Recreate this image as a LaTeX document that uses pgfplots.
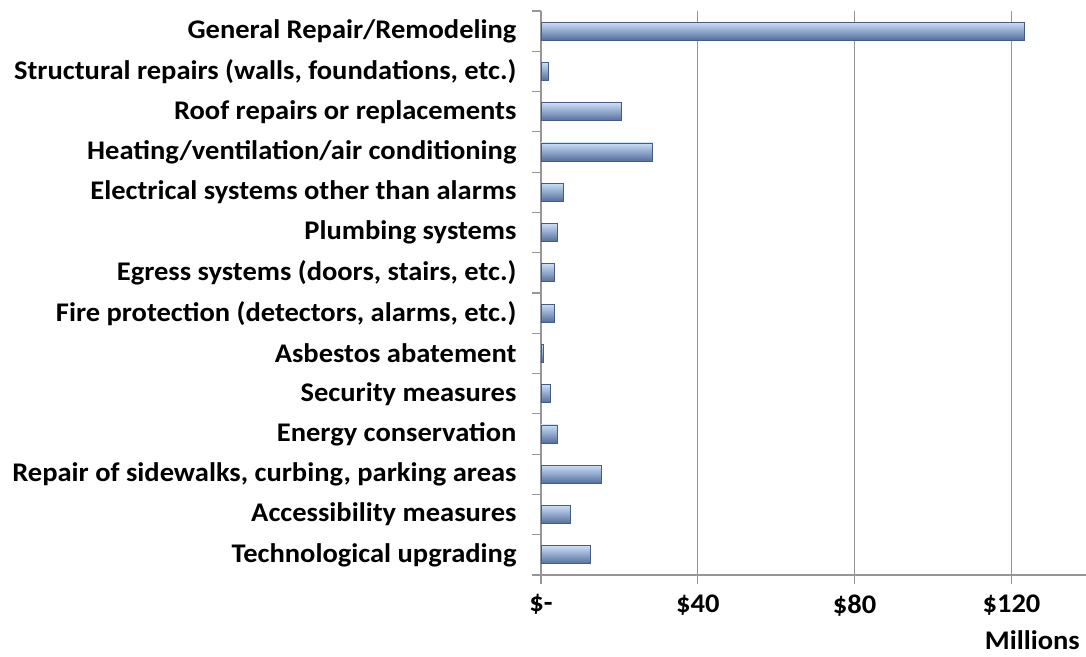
\documentclass[border=0pt]{standalone}
\usepackage{fontspec}
\setmainfont{Carlito}[FakeStretch=1.06]
\usepackage{pgfplots}
\pgfplotsset{compat=1.18}
\definecolor{barlight}{RGB}{202,222,248}
\definecolor{barmid}{RGB}{148,174,217}
\definecolor{bardark}{RGB}{84,110,156}
\definecolor{baredge}{RGB}{70,92,135}
\definecolor{gridgray}{RGB}{150,150,150}
\pgfplotsset{mybar/.style={xbar, bar width=18bp, bar shift=0pt, draw=baredge, line width=0.8bp, top color=barlight, middle color=barmid, bottom color=bardark}}
\begin{document}
\begin{tikzpicture}
\begin{axis}[name=ax, scale only axis, width=545bp, height=564bp,
 xmin=0, xmax=139, ymin=-0.5, ymax=13.5,
 axis x line=bottom, axis y line=left,
 axis line style={draw=gridgray, line width=1.2bp, -},
 xtick={0,40,80,120}, xticklabels={\$-,\$40,\$80,\$120},
 xmajorgrids, grid style={draw=gridgray, line width=1.2bp},
 ytick={-0.5,0.5,...,13.5}, y tick label as interval,
 yticklabels={Technological upgrading, Accessibility measures, {Repair of sidewalks, curbing, parking areas}, Energy conservation, Security measures, Asbestos abatement, {Fire protection (detectors, alarms, etc.)}, {Egress systems (doors, stairs, etc.)}, Plumbing systems, Electrical systems other than alarms, Heating/ventilation/air conditioning, Roof repairs or replacements, {Structural repairs (walls, foundations, etc.)}, General Repair/Remodeling},
 tick align=outside, major tick length=9bp,
 tick style={draw=gridgray, line width=1.2bp},
 tick label style={font=\fontsize{27}{32}\selectfont\bfseries},
 yticklabel style={xshift=-12bp},
 xticklabel style={yshift=-7bp},
 xlabel={Millions},
 xlabel style={font=\fontsize{27}{32}\selectfont\bfseries, at={(rel axis cs:1,0)}, anchor=base east, inner sep=0pt, yshift=-74bp, xshift=-6bp},
]
\addplot[mybar] coordinates {(12.5,0)};
\addplot[mybar] coordinates {(7.6,1)};
\addplot[mybar] coordinates {(15.3,2)};
\addplot[mybar] coordinates {(4.1,3)};
\addplot[mybar] coordinates {(2.5,4)};
\addplot[mybar] coordinates {(0.6,5)};
\addplot[mybar] coordinates {(3.3,6)};
\addplot[mybar] coordinates {(3.3,7)};
\addplot[mybar] coordinates {(4.1,8)};
\addplot[mybar] coordinates {(5.8,9)};
\addplot[mybar] coordinates {(28.5,10)};
\addplot[mybar] coordinates {(20.6,11)};
\addplot[mybar] coordinates {(1.8,12)};
\addplot[mybar] coordinates {(123.3,13)};
\end{axis}
\pgfresetboundingbox
\path[use as bounding box] ([shift={(-541bp,-82bp)}]ax.south west) rectangle ([shift={(0bp,11bp)}]ax.north east);
\end{tikzpicture}
\end{document}
